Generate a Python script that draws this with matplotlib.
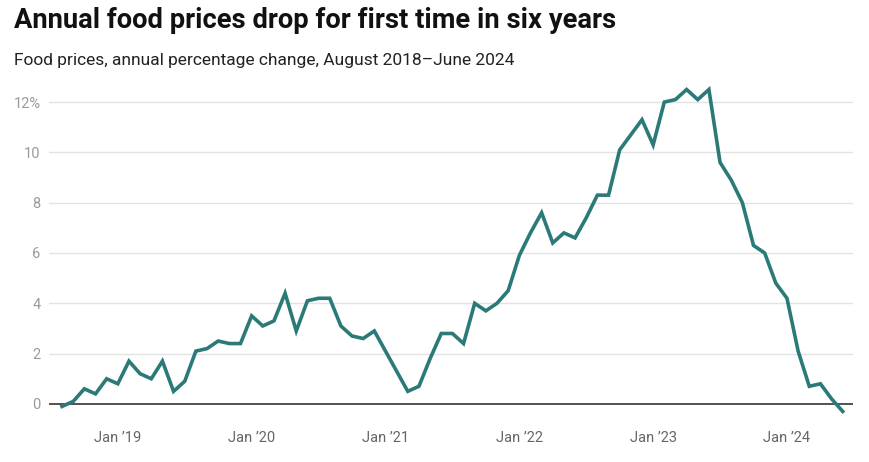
import matplotlib
matplotlib.use("Agg")
import matplotlib.pyplot as plt
import numpy as np

plt.rcParams['font.family'] = ['Roboto', 'DejaVu Sans']

# Monthly data, August 2018 – June 2024
months = ["2018-08", "2018-09", "2018-10", "2018-11", "2018-12",
          "2019-01", "2019-02", "2019-03", "2019-04", "2019-05", "2019-06",
          "2019-07", "2019-08", "2019-09", "2019-10", "2019-11", "2019-12",
          "2020-01", "2020-02", "2020-03", "2020-04", "2020-05", "2020-06",
          "2020-07", "2020-08", "2020-09", "2020-10", "2020-11", "2020-12",
          "2021-01", "2021-02", "2021-03", "2021-04", "2021-05", "2021-06",
          "2021-07", "2021-08", "2021-09", "2021-10", "2021-11", "2021-12",
          "2022-01", "2022-02", "2022-03", "2022-04", "2022-05", "2022-06",
          "2022-07", "2022-08", "2022-09", "2022-10", "2022-11", "2022-12",
          "2023-01", "2023-02", "2023-03", "2023-04", "2023-05", "2023-06",
          "2023-07", "2023-08", "2023-09", "2023-10", "2023-11", "2023-12",
          "2024-01", "2024-02", "2024-03", "2024-04", "2024-05", "2024-06"]

food_inflation = [-0.1, 0.1, 0.6, 0.4, 1.0,
                  0.8, 1.7, 1.2, 1.0, 1.7, 0.5, 0.9, 2.1, 2.2, 2.5, 2.4, 2.4,
                  3.5, 3.1, 3.3, 4.4, 2.9, 4.1, 4.2, 4.2, 3.1, 2.7, 2.6, 2.9,
                  2.1, 1.3, 0.5, 0.7, 1.8, 2.8, 2.8, 2.4, 4.0, 3.7, 4.0, 4.5,
                  5.9, 6.8, 7.6, 6.4, 6.8, 6.6, 7.4, 8.3, 8.3, 10.1, 10.7, 11.3,
                  10.3, 12.0, 12.1, 12.5, 12.1, 12.5, 9.6, 8.9, 8.0, 6.3, 6.0, 4.8,
                  4.2, 2.1, 0.7, 0.8, 0.2, -0.3]

y_ticks = [0, 2, 4, 6, 8, 10, 12]
y_tick_labels = ["0", "2", "4", "6", "8", "10", "12%"]
x_tick_months = ["2019-01", "2020-01", "2021-01", "2022-01", "2023-01", "2024-01"]
x_tick_labels = ["Jan \u201919", "Jan \u201920", "Jan \u201921", "Jan \u201922", "Jan \u201923", "Jan \u201924"]

title = "Annual food prices drop for first time in six years"
subtitle = "Food prices, annual percentage change, August 2018\u2013June 2024"

W, H = 869, 462
fig = plt.figure(figsize=(W / 100, H / 100), dpi=100)
fig.patch.set_facecolor("white")

# axes placement in pixels
ax_left, ax_right = 49, 853
ax_top, ax_bottom = 87, 419
ax = fig.add_axes([ax_left / W, (H - ax_bottom) / H,
                   (ax_right - ax_left) / W, (ax_bottom - ax_top) / H])

x = np.arange(len(months))
ax.plot(x, food_inflation, color="#2b7a78", lw=2.6, solid_joinstyle="miter",
        zorder=3, clip_on=False)

ax.set_ylim(-0.6, 12.6)
ax.set_xlim(-1.17, 70.92)

for t in y_ticks:
    if t == 0:
        ax.axhline(0, color="#222222", lw=1.1, zorder=2)
    else:
        ax.axhline(t, color="#e3e3e3", lw=1.0, zorder=1)

ax.set_yticks(y_ticks)
ax.set_yticklabels(y_tick_labels)
xt = [months.index(m) for m in x_tick_months]
ax.set_xticks(xt)
ax.set_xticklabels(x_tick_labels)

ax.tick_params(axis="y", length=0, pad=6, labelsize=10.5, labelcolor="#9a9a9a")
ax.tick_params(axis="x", length=0, pad=9, labelsize=10.5, labelcolor="#666666")
for s in ax.spines.values():
    s.set_visible(False)

fig.text(14 / W, 1 - 20 / H, title, fontsize=19.7, fontweight="bold",
         color="#111111", va="center", ha="left")
fig.text(14 / W, 1 - 60 / H, subtitle, fontsize=12.5, color="#222222",
         va="center", ha="left")

fig.savefig("out.png", dpi=100, facecolor="white")
